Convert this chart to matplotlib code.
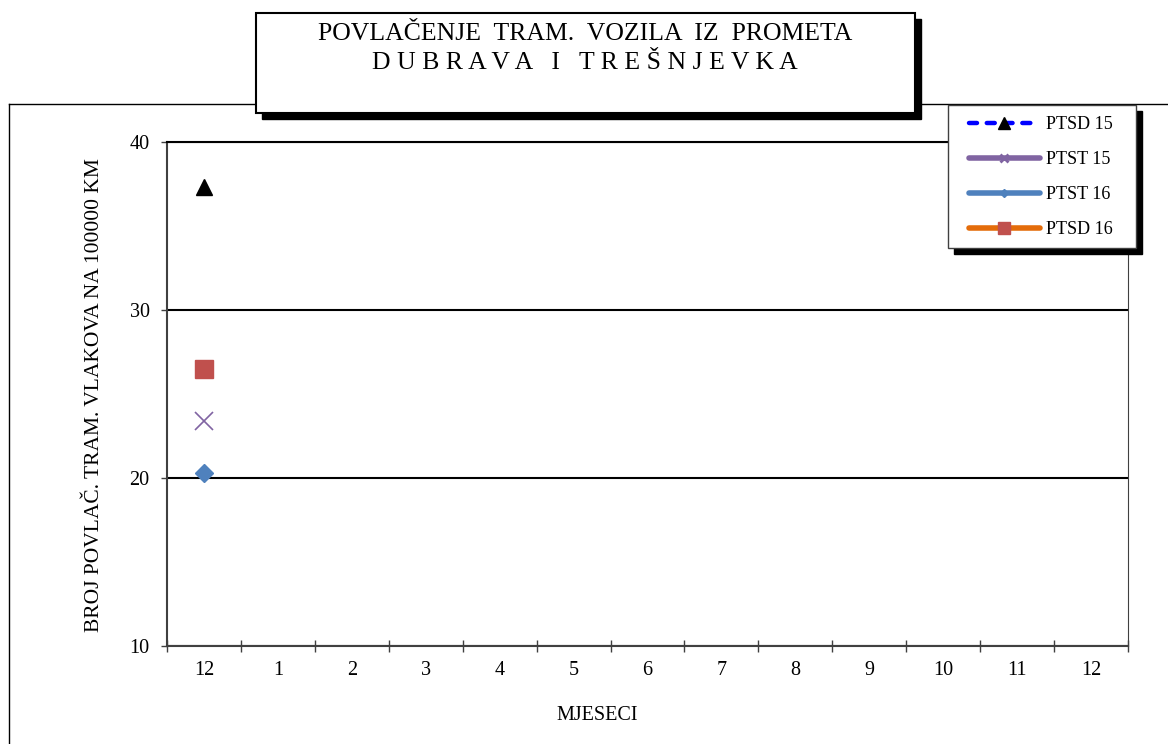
import numpy as np
import matplotlib
matplotlib.use('Agg')
import matplotlib.pyplot as plt
from matplotlib.patches import Rectangle
from matplotlib.lines import Line2D

plt.rcParams['font.family'] = ['Liberation Serif', 'DejaVu Serif']

# data: only the first month has values
months = ['12', '1', '2', '3', '4', '5', '6', '7', '8', '9', '10', '11', '12']
nan = np.nan
ptsd15 = [37.3, nan, nan, nan, nan, nan, nan, nan, nan, nan, nan, nan, nan]
ptst15 = [23.4, nan, nan, nan, nan, nan, nan, nan, nan, nan, nan, nan, nan]
ptst16 = [20.3, nan, nan, nan, nan, nan, nan, nan, nan, nan, nan, nan, nan]
ptsd16 = [26.5, nan, nan, nan, nan, nan, nan, nan, nan, nan, nan, nan, nan]

series_names = ['PTSD 15', 'PTST 15', 'PTST 16', 'PTSD 16']
yticks = [10, 20, 30, 40]

W, H = 1168, 744


def fx(px):
    return px / W


def fy(py):
    return 1 - py / H


def main():
    fig = plt.figure(figsize=(W / 100, H / 100), dpi=100)

    # outer frame (only top and left visible)
    fig.add_artist(Line2D([fx(9), 1], [fy(104), fy(104)], color='black', lw=1, zorder=1))
    fig.add_artist(Line2D([fx(9), fx(9)], [0, fy(104)], color='black', lw=1, zorder=1))

    ax = fig.add_axes([fx(167), fy(646), fx(1128) - fx(167), fy(142) - fy(646)])
    ax.set_zorder(2)
    x = np.arange(len(months))

    ax.plot(x, ptsd15, color='#0000FF', ls=(0, (1.8, 2.2)), lw=2.5, dash_capstyle='round',
            marker='^', ms=12, mfc='black', mec='black', label=series_names[0])
    ax.plot(x, ptst15, color='#8064A2', lw=3, marker='x', ms=13, mew=1.2,
            label=series_names[1])
    ax.plot(x, ptst16, color='#4F81BD', lw=3, marker='D', ms=9.5,
            label=series_names[2])
    ax.plot(x, ptsd16, color='#E46C0A', lw=3, marker='s', ms=13.5,
            mfc='#C0504D', mec='#C0504D', label=series_names[3])

    ax.set_xlim(-0.5, len(months) - 0.5)
    ax.set_ylim(10, 40)
    ax.set_yticks(yticks)
    ax.set_xticks(x)
    ax.set_xticklabels(months)
    ax.set_xticks(np.arange(-0.5, len(months), 1), minor=True)
    ax.tick_params(axis='x', which='major', length=0, pad=11, labelsize=14.5)
    ax.tick_params(axis='x', which='minor', direction='inout', length=9, width=1, color='#404040')
    ax.tick_params(axis='y', direction='out', length=4.5, width=1, pad=8, labelsize=14.5,
                   color='#404040')

    ax.grid(axis='y', color='black', lw=1.5)
    ax.set_axisbelow(True)
    ax.spines['top'].set_color('black')
    ax.spines['top'].set_linewidth(1.5)
    ax.spines['left'].set_color('#404040')
    ax.spines['left'].set_linewidth(1.5)
    ax.spines['bottom'].set_color('#404040')
    ax.spines['bottom'].set_linewidth(1.5)
    ax.spines['right'].set_color('#404040')
    ax.spines['right'].set_linewidth(0.8)

    fig.text(fx(95), fy(395), 'BROJ POVLAČ. TRAM. VLAKOVA NA 100000 KM', rotation=90,
             ha='center', va='center', fontsize=15.5)
    fig.text(fx(597), fy(715), 'MJESECI', ha='center', va='center', fontsize=14.5)

    # title box with shadow
    sh = 6
    fig.add_artist(Rectangle((fx(256 + sh), fy(113 + sh)), fx(659), 100 / H,
                             transform=fig.transFigure, fc='black', ec='black', zorder=5))
    fig.add_artist(Rectangle((fx(256), fy(113)), fx(659), 100 / H,
                             transform=fig.transFigure, fc='white', ec='black', lw=1.5, zorder=6))
    fig.text(fx(585), fy(34), 'POVLAČENJE  TRAM.  VOZILA  IZ  PROMETA', ha='center', va='center',
             fontsize=18.5, zorder=7)
    fig.text(fx(585), fy(63), 'D U B R A V A   I   T R E Š N J E V K A', ha='center', va='center',
             fontsize=18.5, zorder=7)

    # legend box with shadow
    fig.add_artist(Rectangle((fx(948 + sh), fy(248 + sh)), fx(188), 143 / H,
                             transform=fig.transFigure, fc='black', ec='black', zorder=5))
    fig.add_artist(Rectangle((fx(948), fy(248)), fx(188), 143 / H,
                             transform=fig.transFigure, fc='white', ec='#404040', lw=1, zorder=6))

    handles = [
        Line2D([], [], color='#0000FF', ls=(0, (1.8, 2.2)), lw=3.2, dash_capstyle='round',
               marker='^', ms=8, mfc='black', mec='black'),
        Line2D([], [], color='#8064A2', lw=4, solid_capstyle='round', marker='x', ms=6, mew=2),
        Line2D([], [], color='#4F81BD', lw=4, solid_capstyle='round', marker='D', ms=4.5),
        Line2D([], [], color='#E46C0A', lw=4, solid_capstyle='round', marker='s', ms=8.5,
               mfc='#C0504D', mec='#C0504D'),
    ]
    leg = fig.legend(handles, series_names, loc='center', bbox_to_anchor=(fx(1041), fy(177)),
                     frameon=False, fontsize=13, handlelength=3.9, handletextpad=0.35,
                     labelspacing=1.0)
    leg.set_zorder(7)

    fig.savefig('out.png', dpi=100)


if __name__ == '__main__':
    main()
